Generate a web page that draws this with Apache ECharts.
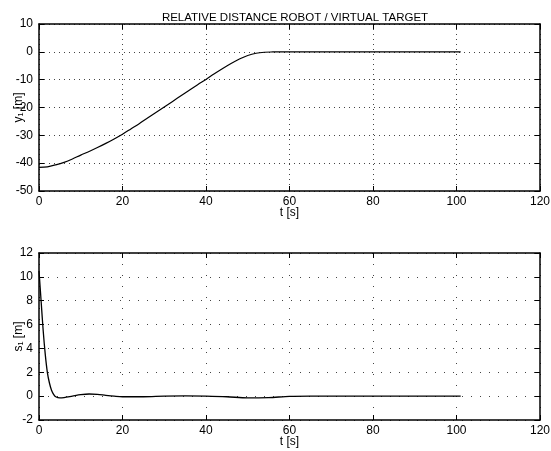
<!DOCTYPE html>
<html>
<head>
<meta charset="utf-8">
<script src="https://cdn.jsdelivr.net/npm/echarts@6/dist/echarts.min.js"></script>
<style>html,body{margin:0;padding:0;background:#fff}#c{width:551px;height:451px}</style>
</head>
<body>
<div id="c"></div>
<script>
const titleText = 'RELATIVE DISTANCE ROBOT / VIRTUAL TARGET';
const xName = 't [s]';
const y1Name = 'y\u2081 [m]';
const s1Name = 's\u2081 [m]';

const tTop = [0, 2, 4, 6, 8, 10, 12, 14, 16, 18, 20, 22, 24, 26, 28, 30, 32, 34, 36, 38, 40, 42, 44, 46, 48, 50, 52, 54, 56, 58, 60, 70, 80, 90, 101];
const yTop = [-41.5, -41.3, -40.6, -39.7, -38.5, -37.1, -35.8, -34.4, -32.9, -31.3, -29.6, -27.7, -25.8, -23.8, -21.8, -19.8, -17.8, -15.8, -13.8, -11.8, -9.9, -7.9, -6.0, -4.2, -2.6, -1.3, -0.5, -0.15, -0.05, 0, 0, 0, 0, 0, 0];

const tBot = [0, 0.5, 1, 1.5, 2, 2.5, 3, 3.5, 4, 5, 6, 8, 10, 12, 14, 16, 18, 20, 25, 30, 35, 40, 45, 50, 55, 60, 65, 70, 80, 90, 101];
const sBot = [10.5, 8.0, 5.5, 3.5, 2.0, 1.1, 0.5, 0.15, -0.05, -0.15, -0.12, 0, 0.12, 0.18, 0.15, 0.07, 0, -0.05, -0.05, 0, 0.02, 0, -0.05, -0.15, -0.12, -0.02, 0, 0, 0, 0, 0];

const font = "'Liberation Sans', Arial, Helvetica, sans-serif";
const chart = echarts.init(document.getElementById('c'), null, {renderer: 'canvas'});

function xAx(gi, pos, show, name, gridDash) {
  return {
    type: 'value', gridIndex: gi, position: pos, min: 0, max: 120, interval: 20,
    name: show ? name : '', nameLocation: 'middle', nameGap: 16, nameMoveOverlap: false,
    nameTextStyle: {color: '#000', fontSize: 12, fontFamily: font},
    axisLine: {show: true, onZero: false, lineStyle: {color: '#000', width: 1.5}},
    axisTick: {show: true, inside: true, length: 5, lineStyle: {color: '#000'}},
    axisLabel: {show: show, color: '#000', fontSize: 12, fontFamily: font, margin: 5},
    splitLine: {show: show, lineStyle: {color: '#444', type: gridDash, width: 1}}
  };
}
function yAx(gi, pos, show, name, min, max, iv, gridDash) {
  return {
    type: 'value', gridIndex: gi, position: pos, min: min, max: max, interval: iv,
    name: show ? name : '', nameLocation: 'middle', nameGap: 14, nameRotate: 90, nameMoveOverlap: false,
    nameTextStyle: {color: '#000', fontSize: 12, fontFamily: font},
    axisLine: {show: true, onZero: false, lineStyle: {color: '#000', width: 1.5}},
    axisTick: {show: true, inside: true, length: 5, lineStyle: {color: '#000'}},
    axisLabel: {show: show, color: '#000', fontSize: 12, fontFamily: font, margin: 6},
    splitLine: {show: show, lineStyle: {color: '#444', type: gridDash, width: 1}}
  };
}

chart.setOption({
  animation: false,
  backgroundColor: '#fff',
  title: {text: titleText, left: 290, top: 7, textAlign: 'center',
    textStyle: {fontSize: 11.5, fontWeight: 'normal', color: '#000', fontFamily: font}},
  grid: [
    {left: 39, right: 11, top: 24, height: 167, containLabel: false, outerBoundsMode: 'none'},
    {left: 39, right: 11, top: 253, height: 167, containLabel: false, outerBoundsMode: 'none'}
  ],
  xAxis: [
    xAx(0, 'bottom', true, xName, [1, 4]),
    xAx(0, 'top', false, '', [1, 4]),
    xAx(1, 'bottom', true, xName, [1, 10]),
    xAx(1, 'top', false, '', [1, 10])
  ],
  yAxis: [
    yAx(0, 'left', true, y1Name, -50, 10, 10, [1, 4]),
    yAx(0, 'right', false, '', -50, 10, 10, [1, 4]),
    yAx(1, 'left', true, s1Name, -2, 12, 2, [1, 8]),
    yAx(1, 'right', false, '', -2, 12, 2, [1, 8])
  ],
  series: [
    {type: 'line', xAxisIndex: 0, yAxisIndex: 0, showSymbol: false, smooth: 0.3,
      lineStyle: {color: '#000', width: 1.2},
      data: tTop.map((t, i) => [t, yTop[i]])},
    {type: 'line', xAxisIndex: 2, yAxisIndex: 2, showSymbol: false, smooth: 0.3,
      lineStyle: {color: '#000', width: 1.3},
      data: tBot.map((t, i) => [t, sBot[i]])}
  ]
});
</script>
</body>
</html>
